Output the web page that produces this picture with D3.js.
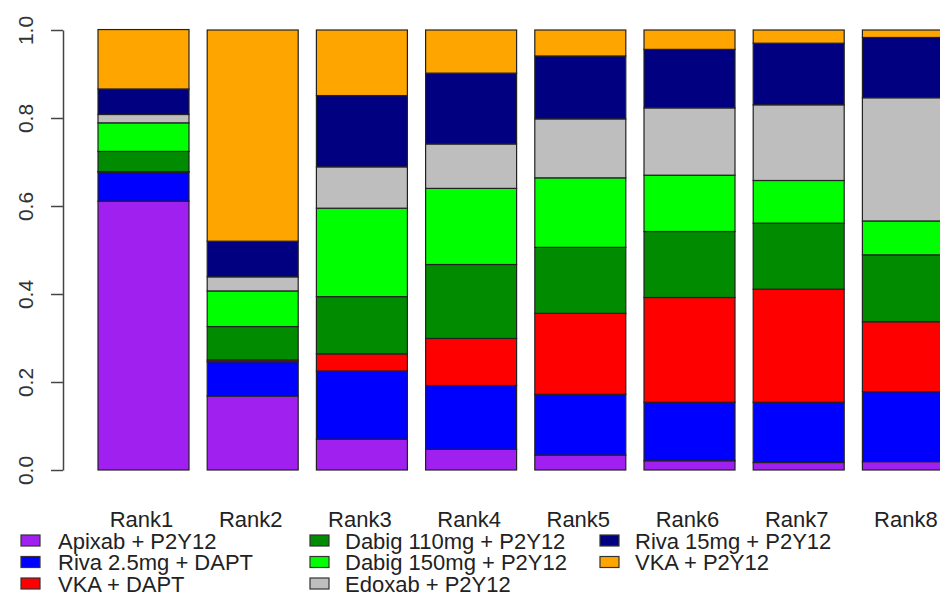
<!DOCTYPE html>
<html>
<head>
<meta charset="utf-8">
<script src="https://cdn.jsdelivr.net/npm/d3@7"></script>
<style>
  html, body { margin: 0; padding: 0; background: #fff; }
  svg { display: block; font-family: "Liberation Sans", Arial, sans-serif; }
</style>
</head>
<body>
<svg id="chart" width="940" height="595"></svg>
<script>
// Rank labels along the x axis
const ranks = ["Rank1", "Rank2", "Rank3", "Rank4", "Rank5", "Rank6", "Rank7", "Rank8"];

// Probability of each treatment taking each rank (stacked bottom to top)
const apixabP2Y12   = [0.611, 0.168, 0.070, 0.047, 0.034, 0.021, 0.017, 0.019];
const riva25DAPT    = [0.066, 0.078, 0.155, 0.145, 0.138, 0.133, 0.137, 0.159];
const vkaDAPT       = [0.001, 0.004, 0.039, 0.107, 0.184, 0.238, 0.257, 0.159];
const dabig110P2Y12 = [0.046, 0.076, 0.130, 0.168, 0.150, 0.150, 0.150, 0.152];
const dabig150P2Y12 = [0.065, 0.081, 0.201, 0.173, 0.158, 0.128, 0.097, 0.077];
const edoxabP2Y12   = [0.019, 0.032, 0.094, 0.101, 0.134, 0.153, 0.172, 0.280];
const riva15P2Y12   = [0.058, 0.081, 0.162, 0.161, 0.143, 0.133, 0.140, 0.137];
const vkaP2Y12      = [0.135, 0.480, 0.149, 0.098, 0.059, 0.044, 0.030, 0.017];

const treatmentNames = [
  "Apixab + P2Y12", "Riva 2.5mg + DAPT", "VKA + DAPT",
  "Dabig 110mg + P2Y12", "Dabig 150mg + P2Y12", "Edoxab + P2Y12",
  "Riva 15mg + P2Y12", "VKA + P2Y12"
];
const treatmentColors = [
  "#A020F0", "#0000FF", "#FF0000", "#008B00",
  "#00FF00", "#BEBEBE", "#000080", "#FFA500"
];
const yTicks = [0, 0.2, 0.4, 0.6, 0.8, 1.0];

const seriesValues = [apixabP2Y12, riva25DAPT, vkaDAPT, dabig110P2Y12,
                      dabig150P2Y12, edoxabP2Y12, riva15P2Y12, vkaP2Y12];

// Build a row per rank for d3.stack
const rows = ranks.map((r, i) => {
  const row = { rank: r };
  treatmentNames.forEach((t, j) => { row[t] = seriesValues[j][i]; });
  return row;
});
const stacked = d3.stack().keys(treatmentNames)(rows);

const svg = d3.select("#chart");

const x = d3.scaleBand()
  .domain(ranks)
  .range([98, 953.4])
  .paddingInner(1 / 6)
  .paddingOuter(0);

const y = d3.scaleLinear().domain([0, 1]).range([470, 30]);

// Stacked bars
const layers = svg.append("g").selectAll("g")
  .data(stacked)
  .join("g")
  .attr("fill", (d, i) => treatmentColors[i]);

layers.selectAll("rect")
  .data(d => d)
  .join("rect")
  .attr("x", d => x(d.data.rank))
  .attr("y", d => y(d[1]))
  .attr("width", x.bandwidth())
  .attr("height", d => y(d[0]) - y(d[1]))
  .attr("stroke", "#222")
  .attr("stroke-width", 1.2);

// Y axis
const yAxis = svg.append("g")
  .attr("transform", "translate(63,0)")
  .call(d3.axisLeft(y).tickValues(yTicks).tickFormat(d3.format(".1f"))
    .tickSize(12).tickSizeOuter(0));
yAxis.select(".domain").attr("stroke", "#444").attr("stroke-width", 1.5);
yAxis.selectAll(".tick line").attr("stroke", "#444").attr("stroke-width", 1.5);
yAxis.selectAll(".tick text")
  .attr("x", null).attr("dy", null)
  .attr("transform", "translate(-30,0) rotate(-90)")
  .attr("text-anchor", "middle")
  .attr("fill", "#333")
  .style("font-size", "21px")
  .style("font-family", "'Liberation Sans', Arial, sans-serif");

// X category labels
svg.append("g").selectAll("text")
  .data(ranks)
  .join("text")
  .attr("x", d => x(d) + x.bandwidth() / 2 - 2)
  .attr("y", 527)
  .attr("text-anchor", "middle")
  .attr("fill", "#222")
  .style("font-size", "22px")
  .text(d => d);

// Legend: three columns filled top to bottom
const legendColX = [21, 310, 600];
const legendTextX = [58, 345, 635];
const legendRowY = [540.5, 562, 583.5];
const legend = svg.append("g").selectAll("g")
  .data(treatmentNames)
  .join("g")
  .attr("transform", (d, i) => {
    const c = Math.floor(i / 3), r = i % 3;
    return `translate(0,${legendRowY[r]})`;
  });

legend.append("rect")
  .attr("x", (d, i) => legendColX[Math.floor(i / 3)])
  .attr("y", -5.5)
  .attr("width", 19)
  .attr("height", 11)
  .attr("fill", (d, i) => treatmentColors[i])
  .attr("stroke", "#333")
  .attr("stroke-width", 1.2);

legend.append("text")
  .attr("x", (d, i) => legendTextX[Math.floor(i / 3)])
  .attr("y", 8)
  .attr("fill", "#222")
  .style("font-size", "22px")
  .text(d => d);
</script>
</body>
</html>
